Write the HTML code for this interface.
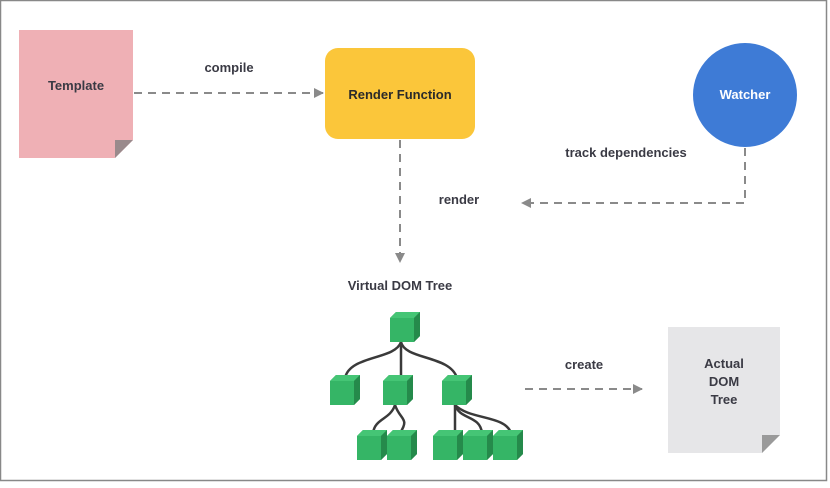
<!DOCTYPE html>
<html><head><style>
body{margin:0;background:#fff}
svg text{font-family:"Liberation Sans",sans-serif;font-weight:bold}
</style></head><body>
<svg width="830" height="483" viewBox="0 0 830 483" xmlns="http://www.w3.org/2000/svg">
<rect x="0.5" y="0.5" width="826" height="480" fill="#fff" stroke="#888" stroke-width="1.5"/>
<defs>
<marker id="a" markerWidth="10" markerHeight="10" refX="9" refY="5" orient="auto" markerUnits="userSpaceOnUse"><path d="M0,0 L10,5 L0,10 z" fill="#8a8a8a"/></marker>
<g id="cube"><path d="M6,0 H30 V24 L24,30 H0 V6 z" fill="#2e9e5a"/><rect x="0" y="6" width="24" height="24" fill="#35b566"/><path d="M0,6 L6,0 H30 L24,6 z" fill="#45c575"/><path d="M24,6 L30,0 V24 L24,30 z" fill="#258a4b"/></g>
</defs>
<!-- Template -->
<path d="M19,30 H133 V140 L115,158 H19 z" fill="#efb0b5"/>
<path d="M133,140 L115,158 L115,140 z" fill="#9a8a8c"/>
<text x="76" y="90" text-anchor="middle" font-size="13" fill="#3a3a44">Template</text>
<!-- compile -->
<line x1="134" y1="93" x2="323" y2="93" stroke="#8a8a8a" stroke-width="2" stroke-dasharray="8,6" marker-end="url(#a)"/>
<text x="229" y="72" text-anchor="middle" font-size="13" fill="#3a3a44">compile</text>
<!-- Render Function -->
<rect x="325" y="48" width="150" height="91" rx="13" fill="#fbc63a"/>
<text x="400" y="99" text-anchor="middle" font-size="13" fill="#2a2a2a">Render Function</text>
<!-- Watcher -->
<circle cx="745" cy="95" r="52" fill="#3e7bd6"/>
<text x="745" y="99" text-anchor="middle" font-size="13" fill="#fff">Watcher</text>
<text x="626" y="157" text-anchor="middle" font-size="13" fill="#3a3a44">track dependencies</text>
<path d="M745,148 V203 H522" fill="none" stroke="#8a8a8a" stroke-width="2" stroke-dasharray="8,6" marker-end="url(#a)"/>
<text x="459" y="204" text-anchor="middle" font-size="13" fill="#3a3a44">render</text>
<line x1="400" y1="140" x2="400" y2="262" stroke="#8a8a8a" stroke-width="2" stroke-dasharray="8,6" marker-end="url(#a)"/>
<text x="400" y="290" text-anchor="middle" font-size="13" fill="#3a3a44">Virtual DOM Tree</text>
<!-- tree lines -->
<g fill="none" stroke="#3a3a3a" stroke-width="2.5">
<path d="M401,342 C395,360 350,355 345,378"/>
<path d="M401,342 V378"/>
<path d="M401,342 C405,360 450,355 457,378"/>
<path d="M395,405 C390,420 375,418 373,433"/>
<path d="M395,405 C400,420 410,418 400,433"/>
<path d="M455,405 V433"/>
<path d="M455,405 C460,420 480,415 482,433"/>
<path d="M455,405 C470,420 505,415 511,433"/>
</g>
<use href="#cube" x="390" y="312"/>
<use href="#cube" x="330" y="375"/>
<use href="#cube" x="383" y="375"/>
<use href="#cube" x="442" y="375"/>
<use href="#cube" x="357" y="430"/>
<use href="#cube" x="387" y="430"/>
<use href="#cube" x="433" y="430"/>
<use href="#cube" x="463" y="430"/>
<use href="#cube" x="493" y="430"/>
<!-- create -->
<line x1="525" y1="389" x2="642" y2="389" stroke="#8a8a8a" stroke-width="2" stroke-dasharray="8,6" marker-end="url(#a)"/>
<text x="584" y="369" text-anchor="middle" font-size="13" fill="#3a3a44">create</text>
<!-- Actual DOM -->
<path d="M668,327 H780 V435 L762,453 H668 z" fill="#e6e6e8"/>
<path d="M780,435 L762,453 L762,435 z" fill="#9a9a9a"/>
<text x="724" y="368" text-anchor="middle" font-size="13" fill="#3a3a44">Actual</text>
<text x="724" y="386" text-anchor="middle" font-size="13" fill="#3a3a44">DOM</text>
<text x="724" y="404" text-anchor="middle" font-size="13" fill="#3a3a44">Tree</text>
</svg>
</body></html>
